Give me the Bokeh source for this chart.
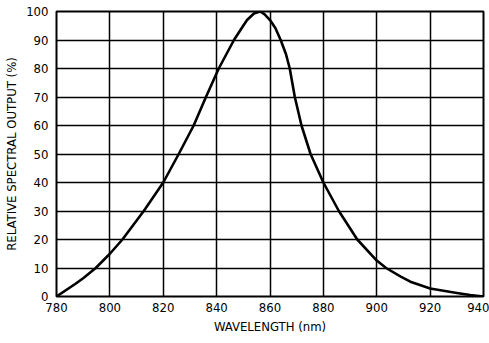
from bokeh.plotting import figure
from bokeh.models import FixedTicker
from bokeh.embed import file_html
from bokeh.resources import INLINE

wavelength = [780, 787, 790, 794.7, 800, 804.7, 812.7, 820, 825.8, 831.4, 836, 840.8,
              846.5, 849.6, 851.4, 854, 856.3, 858, 860, 862, 864, 866, 867.4, 869.3, 871.8,
              875.2, 880, 885.8, 892.7, 900, 903.5, 909, 912.6, 920, 930, 935, 940]
output = [0, 4.4, 6.4, 10, 15, 20, 30, 40, 50, 60, 70, 80,
          90, 94.5, 97, 99.3, 100, 99, 97, 94.2, 90, 85, 80, 70, 60,
          50, 40, 30, 20, 12.6, 10, 7.0, 5.2, 2.8, 1.2, 0.5, 0]

x_ticks = [780, 800, 820, 840, 860, 880, 900, 920, 940]
y_ticks = [0, 10, 20, 30, 40, 50, 60, 70, 80, 90, 100]

FONT = "'DejaVu Sans Condensed', 'Liberation Sans', sans-serif"

p = figure(width=489, height=343, output_backend="svg", toolbar_location=None,
           x_range=(780, 940), y_range=(0, 100),
           min_border_left=56, min_border_right=6, min_border_top=11, min_border_bottom=47)
p.background_fill_color = "white"
p.border_fill_color = "white"
p.outline_line_color = "black"
p.outline_line_width = 2

p.line(wavelength, output, line_color="black", line_width=2.6, line_join="round")

for ax in (p.xaxis, p.yaxis):
    ax.axis_line_color = None
    ax.major_tick_line_color = None
    ax.minor_tick_line_color = None
    ax.major_tick_out = 0
    ax.major_tick_in = 0
    ax.minor_tick_out = 0
    ax.minor_tick_in = 0
    ax.major_label_text_font = FONT
    ax.major_label_text_font_size = "13px"
    ax.major_label_text_color = "black"
    ax.axis_label_text_font = FONT
    ax.axis_label_text_font_size = "13px"
    ax.axis_label_text_font_style = "normal"
    ax.axis_label_text_color = "black"

p.xaxis.ticker = FixedTicker(ticks=x_ticks)
p.yaxis.ticker = FixedTicker(ticks=y_ticks)
p.xaxis.major_label_standoff = 6
p.yaxis.major_label_standoff = 8
p.xaxis.axis_label = "WAVELENGTH (nm)"
p.yaxis.axis_label = "RELATIVE SPECTRAL OUTPUT (%)"
p.xaxis.axis_label_standoff = 4
p.yaxis.axis_label_standoff = 4

p.xgrid.ticker = FixedTicker(ticks=x_ticks)
p.ygrid.ticker = FixedTicker(ticks=y_ticks)
for g in (p.xgrid, p.ygrid):
    g.grid_line_color = "black"
    g.grid_line_width = 1.5
    g.grid_line_alpha = 1.0

open("out.html", "w").write(file_html(p, INLINE))
